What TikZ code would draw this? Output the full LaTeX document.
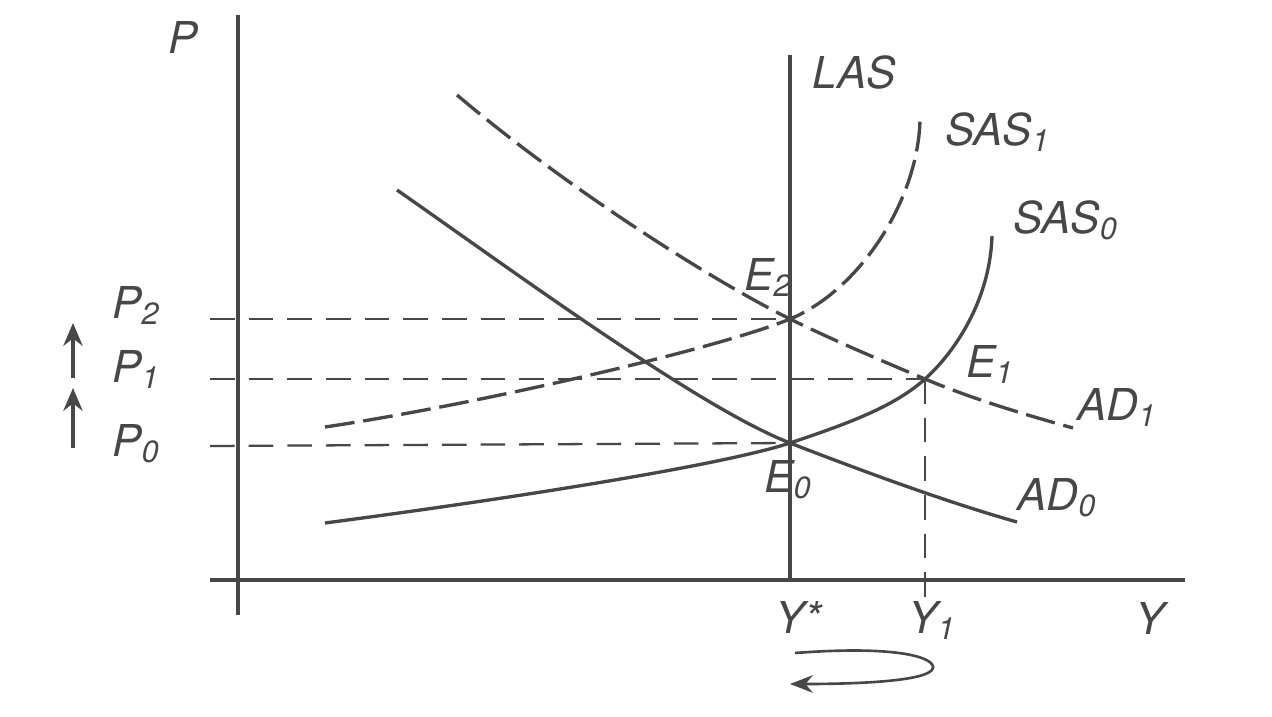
\documentclass[tikz,border=0pt]{standalone}
\usepackage{fontspec}
\setmainfont{TeX Gyre Heros}
\usetikzlibrary{arrows.meta, positioning}

\begin{document}
\begin{tikzpicture}[x=0.02cm, y=-0.02cm,
        ink/.style={black!72},
        axis/.style={ink, line width=1.8pt},
        curve/.style={ink, line width=1.9pt},
        dcurve/.style={curve, dash pattern=on 17pt off 5pt},
        guide/.style={ink, line width=1.3pt, dash pattern=on 14pt off 8pt},
        lbl/.style={ink, inner sep=0pt, anchor=base west, font=\fontsize{25}{30}\selectfont\itshape}]
    \useasboundingbox (0,0) rectangle (1272,717);

    % axes
    \coordinate (ptop) at (238,15);
    \coordinate (pbot) at (238,615);
    \coordinate (yleft) at (210,580);
    \coordinate (yright) at (1185,580);
    \draw[axis] (pbot) -- (ptop);
    \draw[axis] (yleft) -- (yright);
    \node[lbl] (plab) at (168,53) {P};
    \node[lbl] (ylab) at (1135,634) {Y};

    % equilibria
    \coordinate (E0) at (790,443);
    \coordinate (E1) at (925,379);
    \coordinate (E2) at (790,319);

    % LAS
    \coordinate (lastop) at (790,55);
    \coordinate (lasbot) at (790,580);
    \draw[curve] (lasbot) -- (lastop);
    \node[lbl] (las) at (812,88) {LAS};

    % guide lines
    \coordinate (p2) at (210,319);
    \coordinate (p1) at (210,379);
    \coordinate (p0) at (210,446);
    \coordinate (y1) at (925,598);
    \draw[guide] (p2) -- (E2);
    \draw[guide] (p1) -- (E1);
    \draw[guide] (p0) -- (E0);
    \draw[guide] (E1) -- (y1);

    \node[lbl] (P2) at (112,318) {P\textsubscript{2}};
    \node[lbl] (P1) at (112,382) {P\textsubscript{1}};
    \node[lbl] (P0) at (112,456) {P\textsubscript{0}};

    % AD curves
    \coordinate (ad0a) at (397,190);
    \coordinate (ad0b) at (1017,522);
    \draw[curve] (ad0a) .. controls (520,276) and (700,408) .. (E0)
                        .. controls (870,474) and (950,503) .. (ad0b);
    \coordinate (ad1a) at (457,95);
    \coordinate (ad1b) at (1073,428);
    \draw[dcurve] (ad1a) .. controls (557,180) and (700,274) .. (E2)
                         .. controls (835,341) and (880,360) .. (E1)
                         .. controls (975,400) and (1030,416) .. (ad1b);

    % SAS curves
    \coordinate (sas0a) at (325,523);
    \coordinate (sas0b) at (992,236);
    \draw[curve] (sas0a) .. controls (500,500) and (720,466) .. (E0)
                         .. controls (850,423) and (895,406) .. (E1)
                         .. controls (955,352) and (990,300) .. (sas0b);
    \coordinate (sas1a) at (325,427);
    \coordinate (sas1b) at (920,120);
    \draw[dcurve] (sas1a) .. controls (480,404) and (720,348) .. (E2)
                          .. controls (860,290) and (918,200) .. (sas1b);

    \node[lbl] (sas1) at (945,145) {SAS\textsubscript{1}};
    \node[lbl] (sas0) at (1013,233) {SAS\textsubscript{0}};
    \node[lbl] (ad1) at (1077,420) {AD\textsubscript{1}};
    \node[lbl] (ad0) at (1017,510) {AD\textsubscript{0}};
    \node[lbl] (e2) at (744,290) {E\textsubscript{2}};
    \node[lbl] (e1) at (966,377) {E\textsubscript{1}};
    \node[lbl] (e0) at (764,492) {E\textsubscript{0}};
    \node[lbl] (ystar) at (775,633) {Y*};
    \node[lbl] (yone) at (908,633) {Y\textsubscript{1}};

    % rising price arrows
    \coordinate (a1s) at (73,378);
    \coordinate (a1e) at (73,323);
    \coordinate (a0s) at (73,448);
    \coordinate (a0e) at (73,388);
    \draw[ink, line width=1.8pt, -{Stealth[length=13pt, width=11pt]}] (a1s) -- (a1e);
    \draw[ink, line width=1.8pt, -{Stealth[length=13pt, width=11pt]}] (a0s) -- (a0e);

    % loop back arrow
    \coordinate (ls) at (795,653);
    \coordinate (le) at (790,684);
    \draw[ink, line width=1.5pt, -{Stealth[length=13pt, width=10pt]}]
        (ls) .. controls (900,645) and (935,658) .. (933,668)
             .. controls (930,681) and (860,684) .. (le);
\end{tikzpicture}
\end{document}
